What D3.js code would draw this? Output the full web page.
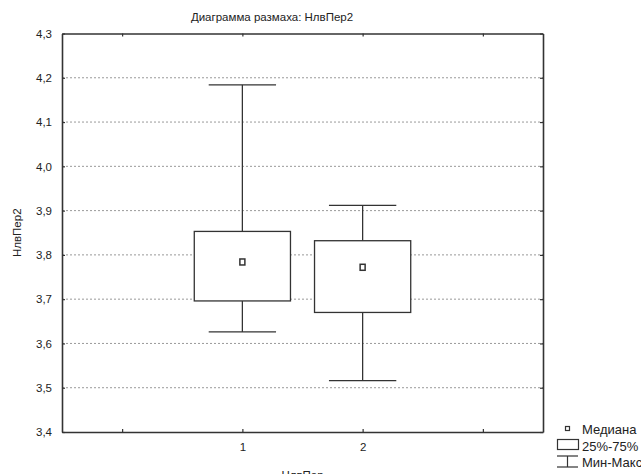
<!DOCTYPE html>
<html>
<head>
<meta charset="utf-8">
<script src="https://cdn.jsdelivr.net/npm/d3@7"></script>
<style>
  body { margin: 0; background: #fff; }
  svg { display: block; }
  text { font-family: "Liberation Sans", Arial, sans-serif; fill: #222; }
</style>
</head>
<body>
<svg id="chart" width="641" height="474"></svg>
<script>
// Groups of НлвПер and their summary statistics for НлвПер2
const groups   = [1, 2];
const minVals  = [3.626, 3.516];
const q1Vals   = [3.696, 3.670];
const medVals  = [3.784, 3.772];
const q3Vals   = [3.853, 3.832];
const maxVals  = [4.184, 3.912];

const yTicks = [3.4, 3.5, 3.6, 3.7, 3.8, 3.9, 4.0, 4.1, 4.2, 4.3];
const xTicks = [0, 1, 2, 3];
const xTickLabels = ["", "1", "2", ""];
const legendItems = ["Медиана", "25%-75%", "Мин-Макс"];

const svg = d3.select("#chart");
const m = { left: 62, right: 543, top: 33.5, bottom: 432 };
const ink = "#333";

const x = d3.scaleLinear().domain([-0.5, 3.5]).range([m.left, m.right]);
const y = d3.scaleLinear().domain([3.4, 4.3]).range([m.bottom, m.top]);

// dotted horizontal grid
svg.append("g").selectAll("line")
  .data(yTicks.filter(v => v > 3.4 && v < 4.3))
  .join("line")
  .attr("x1", m.left).attr("x2", m.right)
  .attr("y1", d => y(d)).attr("y2", d => y(d))
  .attr("stroke", "#999").attr("stroke-width", 1)
  .attr("stroke-dasharray", "2,2");

const fmt = d => d.toFixed(1).replace(".", ",");

// left axis with inward ticks
const axLeft = svg.append("g").attr("transform", `translate(${m.left},0)`)
  .call(d3.axisLeft(y).tickValues(yTicks).tickFormat(fmt).tickSizeInner(-3).tickSizeOuter(0).tickPadding(10));
// bottom axis
const axBottom = svg.append("g").attr("transform", `translate(0,${m.bottom})`)
  .call(d3.axisBottom(x).tickValues(xTicks).tickFormat((d, i) => xTickLabels[i]).tickSizeInner(-3).tickSizeOuter(0).tickPadding(11));
// top and right axes: ticks only
const axTop = svg.append("g").attr("transform", `translate(0,${m.top})`)
  .call(d3.axisTop(x).tickValues(xTicks).tickFormat("").tickSizeInner(-3).tickSizeOuter(0));
const axRight = svg.append("g").attr("transform", `translate(${m.right},0)`)
  .call(d3.axisRight(y).tickValues(yTicks).tickFormat("").tickSizeInner(-3).tickSizeOuter(0));

[axLeft, axBottom, axTop, axRight].forEach(g => {
  g.select(".domain").attr("stroke", ink).attr("stroke-width", 1.6);
  g.selectAll(".tick line").attr("stroke", ink).attr("stroke-width", 1.2);
  g.selectAll(".tick text").attr("font-size", 11.5).attr("fill", "#222")
    .attr("font-family", '"Liberation Sans", Arial, sans-serif');
});

// boxes
const boxHalf = 0.4, capHalf = 0.28;
const gBox = svg.append("g").attr("stroke", ink).attr("stroke-width", 1.3).attr("fill", "none");
groups.forEach((g, i) => {
  const cx = x(g);
  gBox.append("line").attr("x1", cx).attr("x2", cx).attr("y1", y(maxVals[i])).attr("y2", y(q3Vals[i]));
  gBox.append("line").attr("x1", cx).attr("x2", cx).attr("y1", y(q1Vals[i])).attr("y2", y(minVals[i]));
  gBox.append("line").attr("x1", x(g - capHalf)).attr("x2", x(g + capHalf)).attr("y1", y(maxVals[i])).attr("y2", y(maxVals[i]));
  gBox.append("line").attr("x1", x(g - capHalf)).attr("x2", x(g + capHalf)).attr("y1", y(minVals[i])).attr("y2", y(minVals[i]));
  gBox.append("rect")
    .attr("x", x(g - boxHalf)).attr("width", x(g + boxHalf) - x(g - boxHalf))
    .attr("y", y(q3Vals[i])).attr("height", y(q1Vals[i]) - y(q3Vals[i]))
    .attr("fill", "#fff");
  gBox.append("rect")
    .attr("x", cx - 2.5).attr("y", y(medVals[i]) - 3).attr("width", 5).attr("height", 6)
    .attr("fill", "#fff").attr("stroke-width", 1.5);
});

// titles
svg.append("text").attr("x", 272).attr("y", 21).attr("text-anchor", "middle")
  .attr("font-size", 11.5).text("Диаграмма размаха: НлвПер2");
svg.append("text").attr("transform", `translate(21,${(m.top + m.bottom) / 2}) rotate(-90)`)
  .attr("text-anchor", "middle").attr("font-size", 11.5).text("НлвПер2");
svg.append("text").attr("x", (m.left + m.right) / 2).attr("y", 479).attr("text-anchor", "middle")
  .attr("font-size", 11.5).text("НлвПер");

// legend
const lg = svg.append("g").attr("stroke", ink).attr("fill", "none").attr("stroke-width", 1.2);
lg.append("rect").attr("x", 565.5).attr("y", 426.5).attr("width", 4).attr("height", 4).attr("fill", "#fff");
lg.append("rect").attr("x", 557.5).attr("y", 439.5).attr("width", 21).attr("height", 10);
lg.append("line").attr("x1", 557).attr("x2", 578).attr("y1", 456).attr("y2", 456);
lg.append("line").attr("x1", 567.5).attr("x2", 567.5).attr("y1", 456).attr("y2", 467);
lg.append("line").attr("x1", 557).attr("x2", 578).attr("y1", 467).attr("y2", 467);
svg.append("g").selectAll("text").data(legendItems).join("text")
  .attr("x", 582).attr("y", (d, i) => [429, 446, 462][i]).attr("dy", "0.35em")
  .attr("font-size", 13).text(d => d);
</script>
</body>
</html>
